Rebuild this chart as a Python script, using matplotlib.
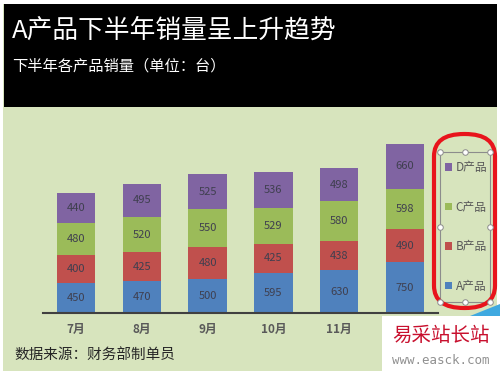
import numpy as np
import matplotlib
matplotlib.use("Agg")
import matplotlib.pyplot as plt
from matplotlib.patches import Rectangle, FancyBboxPatch, Polygon
from matplotlib.lines import Line2D

plt.rcParams["font.family"] = ["Noto Sans CJK SC", "DejaVu Sans"]

months = ["7月", "8月", "9月", "10月", "11月", "12月"]
series_names = ["A产品", "B产品", "C产品", "D产品"]
a_vals = [450, 470, 500, 595, 630, 750]
b_vals = [400, 425, 480, 425, 438, 490]
c_vals = [480, 520, 550, 529, 580, 598]
d_vals = [440, 495, 525, 536, 498, 660]
colors = ["#4F81BD", "#C0504D", "#9BBB59", "#8064A2"]

W, H = 500, 372
fig = plt.figure(figsize=(W / 100, H / 100), dpi=100)
fig.patch.set_facecolor("white")


def fx(px):
    return px / W


def fy(py):
    return 1 - py / H


# green chart area and black header
fig.patches.append(Rectangle((fx(3), fy(371)), fx(494), (371 - 4) / H,
                             transform=fig.transFigure, facecolor="#D7E4BD",
                             edgecolor="none", zorder=0))
fig.patches.append(Rectangle((fx(4), fy(107)), fx(493), (107 - 4) / H,
                             transform=fig.transFigure, facecolor="black",
                             edgecolor="none", zorder=1))

fig.text(fx(12), fy(31), "A产品下半年销量呈上升趋势", color="white",
         fontsize=18.5, va="center", ha="left")
fig.text(fx(12), fy(66), "下半年各产品销量（单位：台）", color="white",
         fontsize=11, va="center", ha="left")

# plot area
ax = fig.add_axes([fx(43), fy(313), fx(438) - fx(43), fy(123.5) - fy(313)])
ax.set_zorder(3)
ax.set_facecolor("none")
x = np.arange(len(months))
bottom = np.zeros(len(months))
handles = []
for name, vals, col in zip(series_names, [a_vals, b_vals, c_vals, d_vals], colors):
    vals = np.array(vals)
    bars = ax.bar(x, vals, bottom=bottom, width=0.58, color=col, label=name, zorder=2)
    handles.append(bars)
    for xi, b, v in zip(x, bottom, vals):
        ax.text(xi, b + v / 2, str(v), ha="center", va="center",
                fontsize=8, color="#3F3F4F", zorder=3)
    bottom += vals

ax.set_xlim(-0.5, 5.5)
ax.set_ylim(0, 2800)
ax.set_yticks([])
for s in ["left", "right", "top"]:
    ax.spines[s].set_visible(False)
ax.spines["bottom"].set_color("#404040")
ax.spines["bottom"].set_linewidth(1.5)
ax.set_xticks(x)
ax.set_xticklabels(months, fontsize=8.5, color="#595959", fontweight="bold")
ax.tick_params(axis="x", length=0, pad=7)

fig.text(fx(14), fy(355), "数据来源：财务部制单员", color="#262626",
         fontsize=10.5, va="center", ha="left")

# legend (D on top), frame drawn separately as the selected box
leg = fig.legend(handles[::-1], series_names[::-1], loc="center",
                 bbox_to_anchor=(fx(466), fy(227)), frameon=False,
                 fontsize=8.5, labelcolor="#595959", handlelength=0.6,
                 handleheight=0.6, handletextpad=0.3, labelspacing=2.25,
                 borderpad=0, borderaxespad=0)
leg.set_zorder(4)

lx0, lx1, ly0, ly1 = 440, 490, 152, 302
fig.patches.append(Rectangle((fx(lx0), fy(ly1)), fx(lx1 - lx0), (ly1 - ly0) / H,
                             transform=fig.transFigure, facecolor="none",
                             edgecolor="#8C8C8C", linewidth=0.8, zorder=5))
# selection handles on legend box
for hx in [lx0, (lx0 + lx1) / 2, lx1]:
    for hy in [ly0, (ly0 + ly1) / 2, ly1]:
        if hx == (lx0 + lx1) / 2 and hy == (ly0 + ly1) / 2:
            continue
        fig.add_artist(Line2D([fx(hx)], [fy(hy)], marker="o", markersize=4,
                              markerfacecolor="white", markeredgecolor="#8C8C8C",
                              markeredgewidth=0.7, transform=fig.transFigure, zorder=6))

# red highlight around legend
fig.patches.append(FancyBboxPatch((fx(434), fy(308)), fx(61), (308 - 134) / H,
                                  boxstyle="round,pad=0,rounding_size=0.06",
                                  transform=fig.transFigure, facecolor="none",
                                  edgecolor="#E8141C", linewidth=3, zorder=5,
                                  mutation_aspect=1))

# watermark
fig.patches.append(Polygon([(fx(382), fy(316)), (fx(500), fy(316)),
                            (fx(500), fy(372)), (fx(382), fy(372))],
                           closed=True, transform=fig.transFigure,
                           facecolor="white", edgecolor="none", zorder=7))
fig.patches.append(Polygon([(fx(470), fy(316)), (fx(500), fy(304)),
                            (fx(500), fy(316))],
                           closed=True, transform=fig.transFigure,
                           facecolor="#3FA9E0", edgecolor="none", zorder=7))
fig.text(fx(441), fy(335), "易采站长站", color="#C8102E", fontsize=14,
         ha="center", va="center", zorder=8)
fig.text(fx(441), fy(360), "www.easck.com", color="#909090", fontsize=9,
         family="DejaVu Sans Mono", ha="center", va="center", zorder=8)

fig.savefig("out.png", dpi=100)
